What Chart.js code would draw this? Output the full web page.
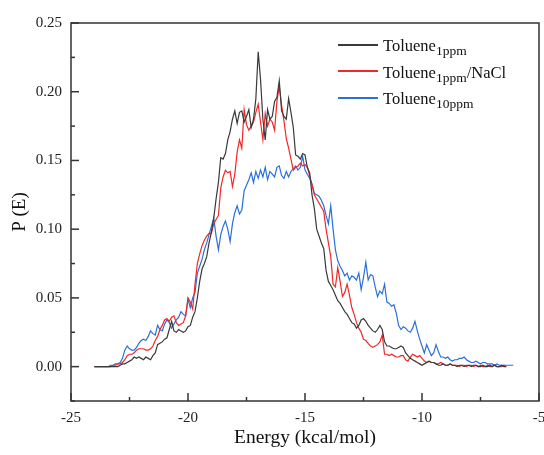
<!DOCTYPE html>
<html>
<head>
<meta charset="utf-8">
<script src="https://cdn.jsdelivr.net/npm/chart.js@4.4.1/dist/chart.umd.min.js"></script>
<style>
  html, body { margin: 0; padding: 0; background: #fff; }
  #wrap { position: relative; width: 544px; height: 455px; }
  #legend { position: absolute; left: 0; top: 0; font-family: "Liberation Serif", "Times New Roman", serif; color: #111; }
  .lg-line { position: absolute; left: 338px; width: 40px; height: 1.5px; }
  .lg-text { position: absolute; left: 383px; font-size: 16.5px; line-height: 18px; white-space: nowrap; }
  .lg-text sub { font-size: 13.5px; line-height: 0; vertical-align: -4px; }
</style>
</head>
<body>
<div id="wrap">
  <canvas id="energyChart" width="544" height="455"></canvas>
  <div id="legend">
    <div class="lg-line" style="top:44px; background:#3a3a3a"></div>
    <div class="lg-text" style="top:37px">Toluene<sub>1ppm</sub></div>
    <div class="lg-line" style="top:70px; background:#f02828"></div>
    <div class="lg-text" style="top:63.5px">Toluene<sub>1ppm</sub>/NaCl</div>
    <div class="lg-line" style="top:97px; background:#2a6fdc"></div>
    <div class="lg-text" style="top:90px">Toluene<sub>10ppm</sub></div>
  </div>
</div>
<script>
// energy grid (kcal/mol), one row = 1 kcal/mol
const energy = [
  -24.0, -23.9, -23.8, -23.7, -23.6, -23.5, -23.4, -23.3, -23.2, -23.1,
  -23.0, -22.9, -22.8, -22.7, -22.6, -22.5, -22.4, -22.3, -22.2, -22.1,
  -22.0, -21.9, -21.8, -21.7, -21.6, -21.5, -21.4, -21.3, -21.2, -21.1,
  -21.0, -20.9, -20.8, -20.7, -20.6, -20.5, -20.4, -20.3, -20.2, -20.1,
  -20.0, -19.9, -19.8, -19.7, -19.6, -19.5, -19.4, -19.3, -19.2, -19.1,
  -19.0, -18.9, -18.8, -18.7, -18.6, -18.5, -18.4, -18.3, -18.2, -18.1,
  -18.0, -17.9, -17.8, -17.7, -17.6, -17.5, -17.4, -17.3, -17.2, -17.1,
  -17.0, -16.9, -16.8, -16.7, -16.6, -16.5, -16.4, -16.3, -16.2, -16.1,
  -16.0, -15.9, -15.8, -15.7, -15.6, -15.5, -15.4, -15.3, -15.2, -15.1,
  -15.0, -14.9, -14.8, -14.7, -14.6, -14.5, -14.4, -14.3, -14.2, -14.1,
  -14.0, -13.9, -13.8, -13.7, -13.6, -13.5, -13.4, -13.3, -13.2, -13.1,
  -13.0, -12.9, -12.8, -12.7, -12.6, -12.5, -12.4, -12.3, -12.2, -12.1,
  -12.0, -11.9, -11.8, -11.7, -11.6, -11.5, -11.4, -11.3, -11.2, -11.1,
  -11.0, -10.9, -10.8, -10.7, -10.6, -10.5, -10.4, -10.3, -10.2, -10.1,
  -10.0, -9.9, -9.8, -9.7, -9.6, -9.5, -9.4, -9.3, -9.2, -9.1,
  -9.0, -8.9, -8.8, -8.7, -8.6, -8.5, -8.4, -8.3, -8.2, -8.1,
  -8.0, -7.9, -7.8, -7.7, -7.6, -7.5, -7.4, -7.3, -7.2, -7.1,
  -7.0, -6.9, -6.8, -6.7, -6.6, -6.5, -6.4, -6.3, -6.2, -6.1
];

// P(E) Toluene 1ppm (black)
const toluene1ppm = [
  0, 0, 0, 0, 0, 0, 0, 0, 0, 0,
  0, 0.001, 0.002, 0.002, 0.003, 0.004, 0.005, 0.007, 0.006, 0.007,
  0.006, 0.005, 0.007, 0.006, 0.005, 0.008, 0.010, 0.016, 0.017, 0.018,
  0.020, 0.021, 0.027, 0.033, 0.026, 0.025, 0.027, 0.026, 0.025, 0.026,
  0.029, 0.030, 0.036, 0.040, 0.050, 0.062, 0.071, 0.075, 0.080, 0.090,
  0.098, 0.108, 0.122, 0.134, 0.152, 0.151, 0.155, 0.165, 0.171, 0.180,
  0.186, 0.177, 0.185, 0.186, 0.178, 0.182, 0.187, 0.174, 0.180, 0.195,
  0.229, 0.209, 0.180, 0.165, 0.187, 0.180, 0.182, 0.193, 0.196, 0.208,
  0.186, 0.182, 0.180, 0.195, 0.185, 0.174, 0.154, 0.153, 0.151, 0.155,
  0.154, 0.145, 0.141, 0.125, 0.115, 0.100, 0.095, 0.090, 0.086, 0.070,
  0.062, 0.059, 0.056, 0.052, 0.048, 0.046, 0.043, 0.040, 0.038, 0.035,
  0.032, 0.031, 0.028, 0.030, 0.034, 0.035, 0.033, 0.030, 0.028, 0.026,
  0.025, 0.027, 0.030, 0.027, 0.018, 0.015, 0.015, 0.014, 0.013, 0.013,
  0.014, 0.015, 0.014, 0.010, 0.008, 0.006, 0.005, 0.004, 0.003, 0.002,
  0.001, 0.002, 0.003, 0.004, 0.003, 0.003, 0.002, 0.001, 0.001, 0.002,
  0.001, 0.001, 0.002, 0.001, 0.001, 0.000, 0.001, 0.001, 0.000, 0.001,
  0.001, 0.000, 0.001, 0.001, 0.000, 0.000, 0.001, 0.000, 0.000, 0.001,
  0.000, 0.001, 0.000, 0.000, 0.001, 0.000, 0.000, null, null, null
];

// P(E) Toluene 1ppm / NaCl (red)
const toluene1ppmNaCl = [
  0, 0, 0, 0, 0, 0, 0, 0, 0.001, 0.001,
  0.002, 0.002, 0.003, 0.005, 0.008, 0.009, 0.009, 0.010, 0.012, 0.013,
  0.013, 0.013, 0.012, 0.012, 0.013, 0.015, 0.019, 0.022, 0.027, 0.030,
  0.034, 0.035, 0.033, 0.036, 0.037, 0.032, 0.030, 0.031, 0.032, 0.037,
  0.050, 0.047, 0.042, 0.060, 0.075, 0.082, 0.088, 0.092, 0.095, 0.097,
  0.097, 0.104, 0.107, 0.110, 0.130, 0.138, 0.143, 0.141, 0.142, 0.131,
  0.140, 0.156, 0.165, 0.159, 0.187, 0.176, 0.172, 0.175, 0.178, 0.185,
  0.191, 0.178, 0.165, 0.184, 0.175, 0.180, 0.178, 0.172, 0.193, 0.204,
  0.190, 0.179, 0.166, 0.159, 0.151, 0.143, 0.145, 0.146, 0.148, 0.146,
  0.147, 0.145, 0.139, 0.132, 0.125, 0.122, 0.119, 0.116, 0.113, 0.100,
  0.090, 0.080, 0.060, 0.058, 0.072, 0.062, 0.051, 0.054, 0.060, 0.052,
  0.043, 0.038, 0.032, 0.028, 0.025, 0.020, 0.019, 0.017, 0.015, 0.014,
  0.015, 0.016, 0.018, 0.023, 0.009, 0.009, 0.008, 0.009, 0.008, 0.007,
  0.007, 0.008, 0.008, 0.005, 0.004, 0.007, 0.009, 0.008, 0.007, 0.008,
  0.006, 0.004, 0.003, 0.004, 0.003, 0.003, 0.002, 0.002, 0.003, 0.002,
  0.001, 0.001, 0.002, 0.001, 0.001, 0.001, 0.000, 0.001, 0.001, 0.000,
  0.001, 0.001, 0.000, 0.001, 0.000, 0.001, 0.000, 0.000, 0.001, 0.000,
  0.000, 0.001, 0.000, 0.000, 0.000, 0.001, 0.000, null, null, null
];

// P(E) Toluene 10ppm (blue)
const toluene10ppm = [
  0, 0, 0, 0, 0, 0, 0, 0.001, 0.001, 0.002,
  0.002, 0.003, 0.006, 0.012, 0.015, 0.013, 0.012, 0.012, 0.014, 0.017,
  0.019, 0.020, 0.019, 0.022, 0.026, 0.024, 0.023, 0.030, 0.027, 0.026,
  0.031, 0.034, 0.032, 0.028, 0.031, 0.034, 0.036, 0.040, 0.038, 0.037,
  0.049, 0.043, 0.050, 0.054, 0.068, 0.073, 0.078, 0.085, 0.090, 0.096,
  0.102, 0.108, 0.095, 0.085, 0.096, 0.102, 0.106, 0.100, 0.091, 0.104,
  0.112, 0.117, 0.111, 0.114, 0.128, 0.132, 0.136, 0.141, 0.134, 0.142,
  0.137, 0.143, 0.138, 0.145, 0.136, 0.142, 0.140, 0.138, 0.145, 0.146,
  0.139, 0.137, 0.142, 0.138, 0.142, 0.144, 0.146, 0.143, 0.145, 0.153,
  0.143, 0.140, 0.137, 0.133, 0.126, 0.125, 0.124, 0.121, 0.117, 0.110,
  0.104, 0.117, 0.100, 0.085, 0.077, 0.073, 0.070, 0.066, 0.068, 0.063,
  0.066, 0.065, 0.063, 0.068, 0.056, 0.065, 0.076, 0.063, 0.067, 0.066,
  0.058, 0.051, 0.055, 0.053, 0.060, 0.047, 0.046, 0.044, 0.045, 0.039,
  0.030, 0.027, 0.029, 0.028, 0.026, 0.025, 0.028, 0.033, 0.026, 0.020,
  0.015, 0.010, 0.016, 0.012, 0.008, 0.010, 0.016, 0.011, 0.007, 0.007,
  0.006, 0.007, 0.005, 0.004, 0.005, 0.005, 0.006, 0.006, 0.007, 0.005,
  0.004, 0.003, 0.003, 0.004, 0.003, 0.002, 0.003, 0.003, 0.002, 0.002,
  0.002, 0.001, 0.002, 0.001, 0.001, 0.001, 0.001, 0.001, 0.001, 0.001
];

// axis ticks
const xMajorTicks = [-25, -20, -15, -10, -5];
const xMinorTicks = [-22.5, -17.5, -12.5, -7.5];
const yMajorTicks = [0, 0.05, 0.10, 0.15, 0.20, 0.25];
const yMinorTicks = [-0.025, 0.025, 0.075, 0.125, 0.175, 0.225];

const serif = '"Liberation Serif", "Times New Roman", serif';

const toPoints = (vals) => energy.map((e, i) => ({ x: e, y: vals[i] }));

// box frame + inward ticks like the origin plot
const frameTicks = {
  id: 'frameTicks',
  afterDraw(chart) {
    const { ctx, chartArea: a, scales: { x, y } } = chart;
    ctx.save();
    ctx.strokeStyle = '#333';
    ctx.lineWidth = 1.5;
    ctx.strokeRect(a.left, a.top, a.right - a.left, a.bottom - a.top);
    const seg = (x1, y1, x2, y2) => { ctx.beginPath(); ctx.moveTo(x1, y1); ctx.lineTo(x2, y2); ctx.stroke(); };
    xMajorTicks.forEach(v => { const p = x.getPixelForValue(v); seg(p, a.bottom, p, a.bottom - 8); });
    xMinorTicks.forEach(v => { const p = x.getPixelForValue(v); seg(p, a.bottom, p, a.bottom - 4); });
    yMajorTicks.forEach(v => { const p = y.getPixelForValue(v); seg(a.left, p, a.left + 8, p); });
    yMinorTicks.forEach(v => { const p = y.getPixelForValue(v); seg(a.left, p, a.left + 4, p); });
    ctx.restore();
  }
};

const ctx = document.getElementById('energyChart').getContext('2d');
const energyChart = new Chart(ctx, {
  type: 'line',
  data: {
    datasets: [
      { label: 'Toluene1ppm', data: toPoints(toluene1ppm), borderColor: '#3a3a3a' },
      { label: 'Toluene1ppm/NaCl', data: toPoints(toluene1ppmNaCl), borderColor: '#f02828' },
      { label: 'Toluene10ppm', data: toPoints(toluene10ppm), borderColor: '#2a6fdc' }
    ]
  },
  options: {
    responsive: false,
    animation: false,
    elements: {
      point: { radius: 0 },
      line: { borderWidth: 1.2, tension: 0, fill: false }
    },
    layout: { padding: { left: 0, top: 23, right: 5, bottom: 0 } },
    plugins: { legend: { display: false }, tooltip: { enabled: false } },
    scales: {
      x: {
        type: 'linear',
        min: -25,
        max: -5,
        afterBuildTicks: (s) => { s.ticks = xMajorTicks.map(v => ({ value: v })); },
        afterFit: (s) => { s.height = 54; s.paddingLeft = 0; s.paddingRight = 0; },
        grid: { display: false, drawTicks: false },
        border: { display: false },
        ticks: { color: '#222', padding: 8, maxRotation: 0, font: { family: serif, size: 15 } },
        title: { display: true, text: 'Energy (kcal/mol)', color: '#111', font: { family: serif, size: 19.5 }, padding: { top: 0, bottom: 5 } }
      },
      y: {
        type: 'linear',
        min: -0.025,
        max: 0.25,
        afterBuildTicks: (s) => { s.ticks = yMajorTicks.map(v => ({ value: v })); },
        afterFit: (s) => { s.width = 71; s.paddingTop = 0; s.paddingBottom = 0; },
        grid: { display: false, drawTicks: false },
        border: { display: false },
        ticks: { color: '#222', padding: 9, font: { family: serif, size: 15 }, callback: (v) => Number(v).toFixed(2) },
        title: { display: true, text: 'P (E)', color: '#111', font: { family: serif, size: 19 }, padding: { top: 9, bottom: 0 } }
      }
    }
  },
  plugins: [frameTicks]
});
</script>
</body>
</html>
